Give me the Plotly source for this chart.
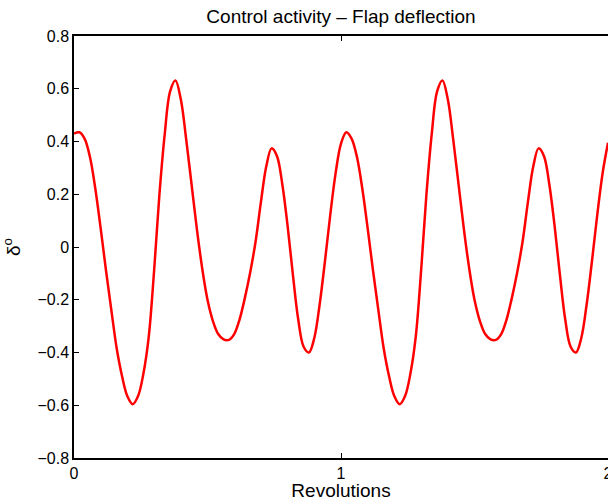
import plotly.graph_objects as go

# Flap deflection sampled every 0.02 revolution over two revolutions
revolutions = [
    0.00, 0.02, 0.04, 0.06, 0.08, 0.10, 0.12, 0.14, 0.16, 0.18,
    0.20, 0.22, 0.24, 0.26, 0.28, 0.30, 0.32, 0.34, 0.36, 0.38,
    0.40, 0.42, 0.44, 0.46, 0.48, 0.50, 0.52, 0.54, 0.56, 0.58,
    0.60, 0.62, 0.64, 0.66, 0.68, 0.70, 0.72, 0.74, 0.76, 0.78,
    0.80, 0.82, 0.84, 0.86, 0.88, 0.90, 0.92, 0.94, 0.96, 0.98,
    1.00, 1.02, 1.04, 1.06, 1.08, 1.10, 1.12, 1.14, 1.16, 1.18,
    1.20, 1.22, 1.24, 1.26, 1.28, 1.30, 1.32, 1.34, 1.36, 1.38,
    1.40, 1.42, 1.44, 1.46, 1.48, 1.50, 1.52, 1.54, 1.56, 1.58,
    1.60, 1.62, 1.64, 1.66, 1.68, 1.70, 1.72, 1.74, 1.76, 1.78,
    1.80, 1.82, 1.84, 1.86, 1.88, 1.90, 1.92, 1.94, 1.96, 1.98,
    2.00,
]
deflection = [
    0.430, 0.435, 0.410, 0.340, 0.220, 0.070, -0.090, -0.240, -0.385, -0.490,
    -0.566, -0.596, -0.565, -0.480, -0.340, -0.090, 0.200, 0.430, 0.590, 0.631,
    0.560, 0.410, 0.240, 0.070, -0.080, -0.200, -0.280, -0.330, -0.350, -0.352,
    -0.330, -0.275, -0.193, -0.096, 0.020, 0.170, 0.305, 0.374, 0.345, 0.239,
    0.080, -0.107, -0.276, -0.378, -0.400, -0.345, -0.218, -0.053, 0.124, 0.281,
    0.392, 0.435, 0.410, 0.340, 0.220, 0.070, -0.090, -0.240, -0.385, -0.490,
    -0.566, -0.596, -0.565, -0.480, -0.340, -0.090, 0.200, 0.430, 0.590, 0.631,
    0.560, 0.410, 0.240, 0.070, -0.080, -0.200, -0.280, -0.330, -0.350, -0.352,
    -0.330, -0.275, -0.193, -0.096, 0.020, 0.170, 0.305, 0.374, 0.345, 0.239,
    0.080, -0.107, -0.276, -0.378, -0.400, -0.345, -0.218, -0.053, 0.124, 0.281,
    0.395,
]

x_ticks = [0, 1, 2]
y_ticks = [-0.8, -0.6, -0.4, -0.2, 0, 0.2, 0.4, 0.6, 0.8]
y_tick_labels = ["\u22120.8", "\u22120.6", "\u22120.4", "\u22120.2", "0",
                 "0.2", "0.4", "0.6", "0.8"]

FONT = "Liberation Sans, Arial, Helvetica, sans-serif"

fig = go.Figure()
fig.add_trace(go.Scatter(
    x=revolutions, y=deflection, mode="lines",
    line=dict(color="#ff0000", width=2.5, shape="spline", smoothing=1.0),
    hoverinfo="skip", showlegend=False,
))

fig.update_layout(
    width=608, height=501,
    margin=dict(l=74, r=0, t=36, b=43),
    paper_bgcolor="white", plot_bgcolor="white",
    font=dict(family=FONT, size=16, color="black"),
    title=dict(text="Control activity \u2013 Flap deflection",
               x=0.5, xanchor="center", xref="paper",
               y=1 - 16 / 501, yanchor="middle", yref="container",
               font=dict(family=FONT, size=19, color="black")),
    xaxis=dict(range=[0, 2], tickvals=x_ticks, ticktext=[str(v) for v in x_ticks],
               ticks="inside", ticklen=5, tickcolor="black", tickwidth=1,
               showline=True, linecolor="black", linewidth=1.5, mirror="ticks",
               showgrid=False, zeroline=False, ticklabeloverflow="allow",
               automargin=False,
               title=dict(text="Revolutions", standoff=7),
               tickfont=dict(size=16)),
    yaxis=dict(range=[-0.8, 0.8], tickvals=y_ticks, ticktext=y_tick_labels,
               ticks="inside", ticklen=5, tickcolor="black", tickwidth=1,
               showline=True, linecolor="black", linewidth=1.5, mirror=False,
               showgrid=False, zeroline=False, automargin=False,
               title=dict(text="\u03b4<sup>o</sup>", standoff=14),
               tickfont=dict(size=16)),
    yaxis2=dict(range=[-0.8, 0.8], tickvals=y_ticks, overlaying="y", side="right",
                ticks="inside", ticklen=5, tickcolor="black", tickwidth=1,
                showticklabels=False, showline=False, showgrid=False,
                zeroline=False, automargin=False),
)

fig.write_html("out.html")
